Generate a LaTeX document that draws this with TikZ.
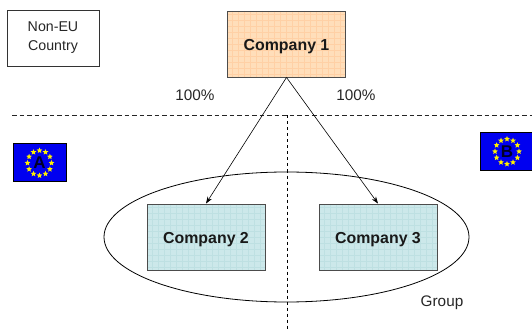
\documentclass[tikz,border=0pt]{standalone}
\usepackage{fontspec}
\setmainfont{Liberation Sans}
\usetikzlibrary{arrows.meta,shapes.geometric}
\definecolor{orfill}{RGB}{255,222,186}
\definecolor{orgrid}{RGB}{255,208,165}
\definecolor{blfill}{RGB}{204,232,234}
\definecolor{blgrid}{RGB}{190,224,226}
\definecolor{eublue}{RGB}{0,0,240}
\definecolor{eugold}{RGB}{255,240,0}
\tikzset{
  x=1pt,y=-1pt,
  company/.style={draw=black!70,line width=0.9pt,minimum width=118pt,minimum height=66pt,inner sep=0pt,font=\fontsize{15.9}{18}\selectfont\bfseries,text=black!90},
  orangebox/.style={company,fill=orfill,
    path picture={\foreach \g in {-66,-60,...,66} {
      \draw[orgrid,line width=0.6pt] ([xshift=\g pt]path picture bounding box.north) -- ([xshift=\g pt]path picture bounding box.south);
      \draw[orgrid,line width=0.6pt] ([yshift=\g pt]path picture bounding box.west) -- ([yshift=\g pt]path picture bounding box.east);}}},
  bluebox/.style={company,fill=blfill,
    path picture={\foreach \g in {-66,-60,...,66} {
      \draw[blgrid,line width=0.6pt] ([xshift=\g pt]path picture bounding box.north) -- ([xshift=\g pt]path picture bounding box.south);
      \draw[blgrid,line width=0.6pt] ([yshift=\g pt]path picture bounding box.west) -- ([yshift=\g pt]path picture bounding box.east);}}},
  plainbox/.style={draw=black!80,line width=0.8pt,align=center,inner sep=0pt,minimum width=92pt,minimum height=56pt,font=\fontsize{14.2}{19}\selectfont,text=black!85},
  lbl/.style={inner sep=0pt,font=\fontsize{15.3}{17}\selectfont,text=black!85},
  link/.style={draw=black,line width=0.6pt,-{Stealth[length=7pt,width=5pt]}},
  hdivider/.style={draw=black!85,line width=0.8pt,dash pattern=on 4.5pt off 3pt},
  vdivider/.style={draw=black,line width=0.7pt,dash pattern=on 3pt off 3pt},
  flagbox/.style={draw=black,line width=1pt,fill=eublue,inner sep=0pt,text depth=0pt,font=\fontsize{17}{17}\selectfont\bfseries,text=black!85!blue},
  eustar/.style={star,star points=5,star point ratio=2.2,fill=eugold,draw=none,inner sep=0pt,minimum size=6pt},
  group/.style={ellipse,draw=black,line width=0.8pt,inner sep=0pt,minimum width=365pt,minimum height=130pt}
}
\newcommand{\eustars}[3]{%
  \foreach \a in {0,30,...,330} {
    \node[eustar] (#3\a) at ({#1+12*cos(\a)},{#2+12.5*sin(\a)}) {};
  }}
\begin{document}
\begin{tikzpicture}
\useasboundingbox (0,0) rectangle (532,331);
\fill[white] (0,0) rectangle (532,331);
% dividers
\coordinate (dl) at (12,115.5);
\coordinate (dr) at (532,115.5);
\coordinate (vt) at (287,115.5);
\coordinate (vb) at (287,331);
\draw[hdivider] (dl) -- (dr);
\draw[vdivider] (vt) -- (vb);
% group
\node[group] (grp) at (286.5,237) {};
\node[lbl,anchor=center] (grplbl) at (442,303) {Group};
% boxes
\node[plainbox] (noneu) at (53,38) {\raisebox{-2pt}{Non-EU}\\\raisebox{-2pt}{Country}};
\node[orangebox,text depth=0pt] (c1) at (286.5,44) {\raisebox{-1.5pt}{Company 1}};
\node[bluebox,text depth=0pt] (c2) at (206,237) {\raisebox{-1.5pt}{Company 2}};
\node[bluebox,text depth=0pt] (c3) at (378,237) {\raisebox{-1.5pt}{Company 3}};
% links
\draw[link] (c1.south) -- (c2.north);
\draw[link] (c1.south) -- (c3.north);
\node[lbl] (p1) at (195,95) {100\%};
\node[lbl] (p2) at (356,95) {100\%};
% flags
\node[flagbox,minimum width=53pt,minimum height=37pt] (fa) at (39.5,162.5) {A};
\eustars{39.5}{163}{sa}
\node[flagbox,minimum width=53pt,minimum height=38pt] (fb) at (507,152) {B};
\eustars{507}{151.5}{sb}
\end{tikzpicture}
\end{document}
